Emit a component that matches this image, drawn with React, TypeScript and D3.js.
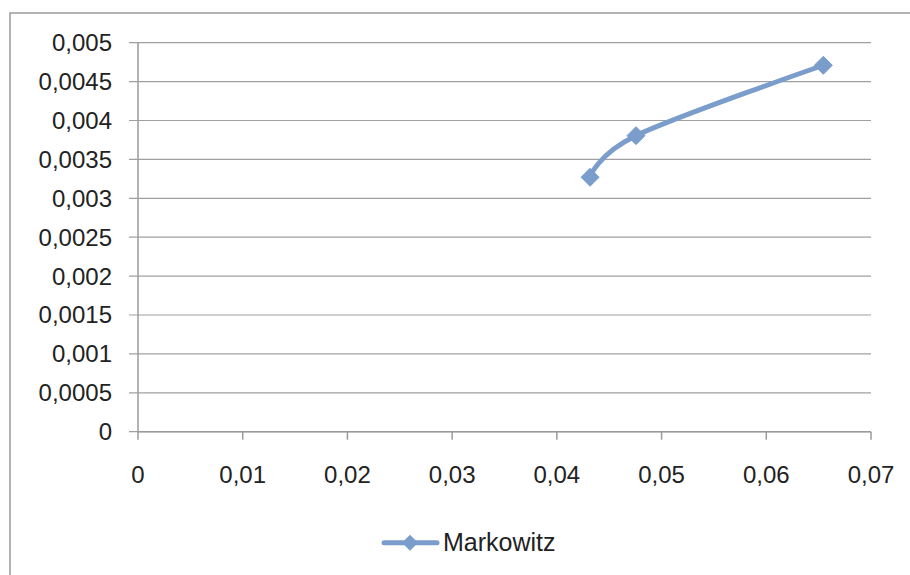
import React from "react";
import * as d3 from "d3";

const seriesName = "Markowitz";
const xValues = [0.04317, 0.04756, 0.06545];
const yValues = [0.00327, 0.003805, 0.00471];
const xTicks = [0, 0.01, 0.02, 0.03, 0.04, 0.05, 0.06, 0.07];
const yTicks = [0, 0.0005, 0.001, 0.0015, 0.002, 0.0025, 0.003, 0.0035, 0.004, 0.0045, 0.005];

const fmt = (v: number) => (v === 0 ? "0" : String(+v.toFixed(4)).replace(".", ","));

export default function App() {
  const W = 910, H = 575;
  const left = 138, right = 871, top = 42.7, bottom = 431.7;
  const x = d3.scaleLinear().domain([0, 0.07]).range([left, right]);
  const y = d3.scaleLinear().domain([0, 0.005]).range([bottom, top]);
  const color = "#7a9dcc";
  const font = "'Liberation Sans', Arial, sans-serif";
  const textColor = "#222";
  const pts = xValues.map((v, i) => [x(v), y(yValues[i])] as [number, number]);
  const line = d3.line().curve(d3.curveCatmullRom.alpha(0))(pts) || "";
  const diamond = (cx: number, cy: number, r: number) =>
    `M${cx},${cy - r}L${cx + r},${cy}L${cx},${cy + r}L${cx - r},${cy}Z`;
  return (
    <svg width={W} height={H} style={{ position: "absolute", left: 0, top: 0, background: "#fff" }}>
      <rect x={10} y={13} width={920} height={600} fill="#fff" stroke="#9a9a9a" strokeWidth={1.5} />
      {yTicks.map((t) => (
        <g key={"y" + t}>
          <line x1={129} x2={right} y1={y(t)} y2={y(t)} stroke="#a0a0a0" strokeWidth={1.2} />
          <text x={112} y={y(t)} dy="0.35em" textAnchor="end" fontFamily={font} fontSize={24} fill={textColor}>
            {fmt(t)}
          </text>
        </g>
      ))}
      <line x1={left} x2={left} y1={top} y2={bottom} stroke="#9a9a9a" strokeWidth={1.5} />
      <line x1={left} x2={right} y1={bottom} y2={bottom} stroke="#9a9a9a" strokeWidth={1.5} />
      {xTicks.map((t) => (
        <g key={"x" + t}>
          <line x1={x(t)} x2={x(t)} y1={bottom} y2={bottom + 8} stroke="#9a9a9a" strokeWidth={1.5} />
          <text x={x(t)} y={475} dy="0.35em" textAnchor="middle" fontFamily={font} fontSize={24} fill={textColor}>
            {fmt(t)}
          </text>
        </g>
      ))}
      <path d={line} fill="none" stroke={color} strokeWidth={5} strokeLinecap="round" />
      {pts.map(([px, py], i) => (
        <path key={i} d={diamond(px, py, 9)} fill={color} stroke={color} strokeWidth={1} strokeLinejoin="round" />
      ))}
      <line x1={384} x2={437} y1={542.7} y2={542.7} stroke={color} strokeWidth={5} strokeLinecap="round" />
      <path d={diamond(410, 542.7, 8)} fill={color} />
      <text x={443} y={542.7} dy="0.35em" fontFamily={font} fontSize={25} fill={textColor}>
        {seriesName}
      </text>
    </svg>
  );
}
